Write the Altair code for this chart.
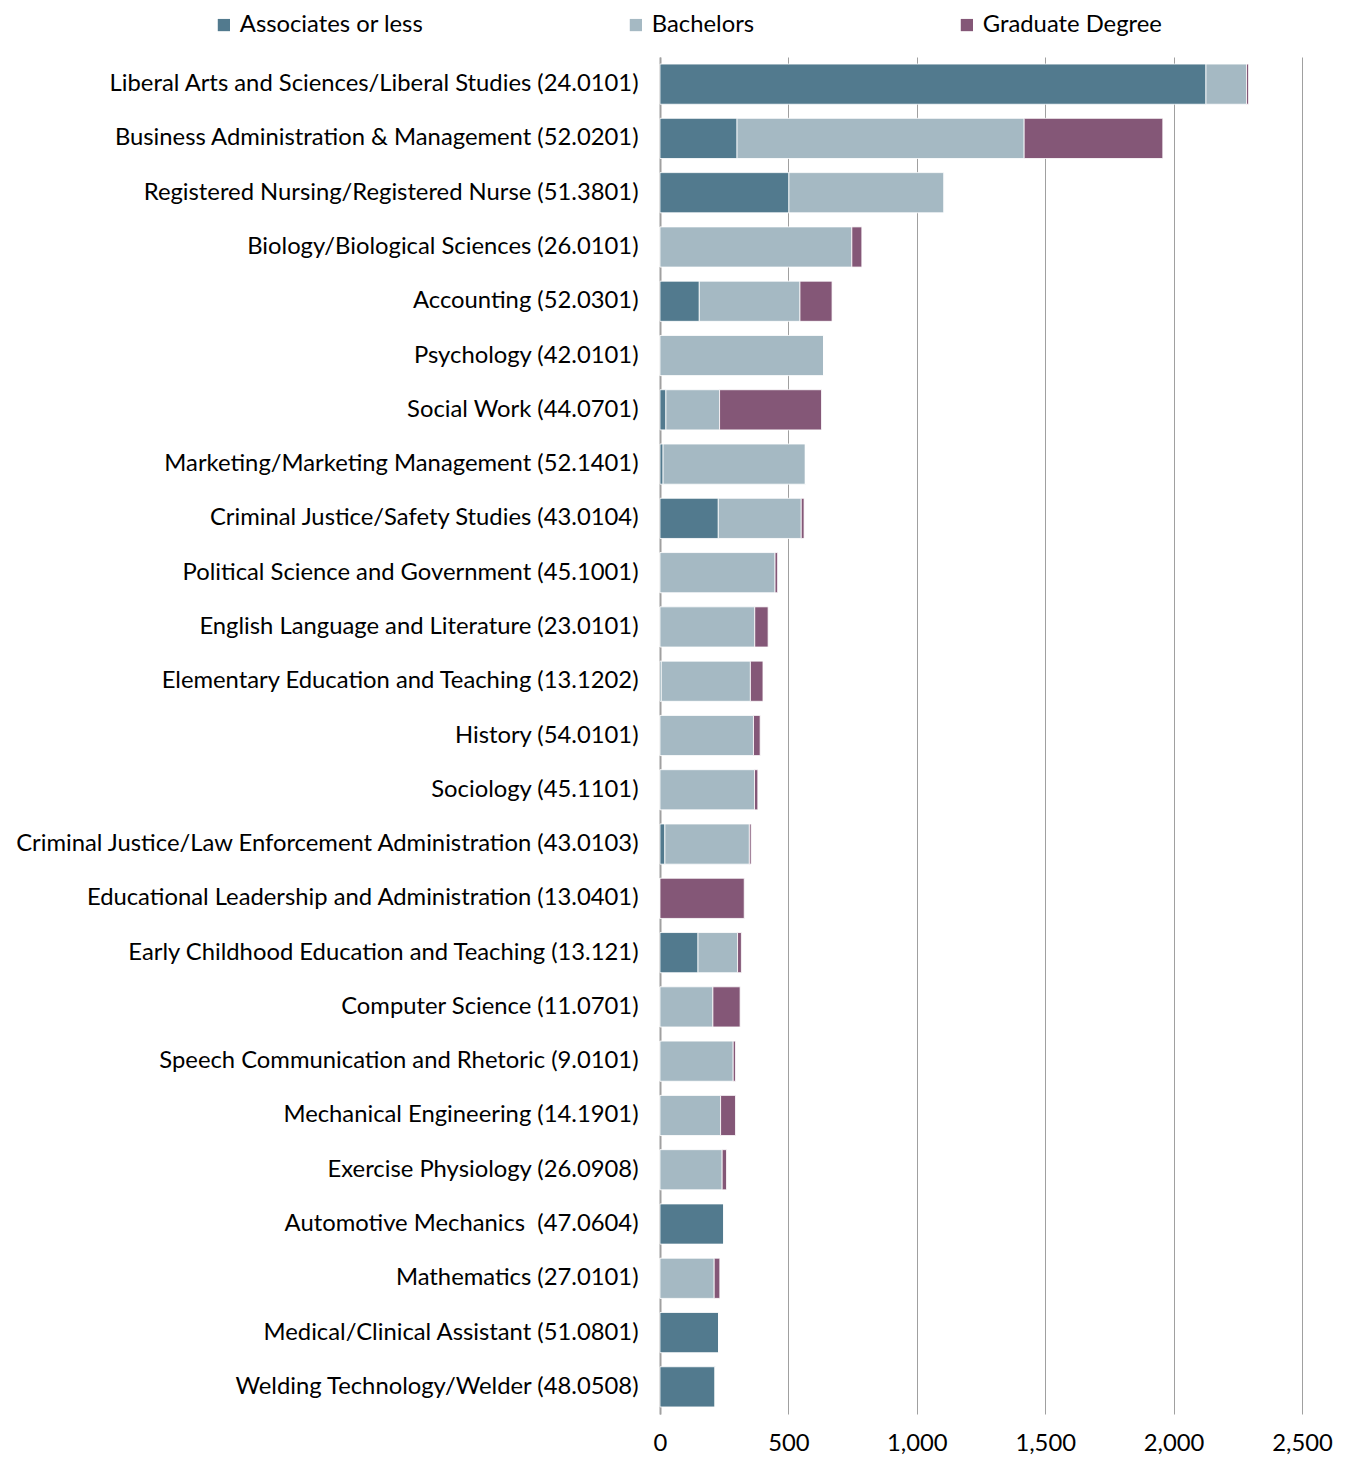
import altair as alt
import pandas as pd

categories = [
    "Liberal Arts and Sciences/Liberal Studies (24.0101)",
    "Business Administration & Management (52.0201)",
    "Registered Nursing/Registered Nurse (51.3801)",
    "Biology/Biological Sciences (26.0101)",
    "Accounting (52.0301)",
    "Psychology (42.0101)",
    "Social Work (44.0701)",
    "Marketing/Marketing Management (52.1401)",
    "Criminal Justice/Safety Studies (43.0104)",
    "Political Science and Government (45.1001)",
    "English Language and Literature (23.0101)",
    "Elementary Education and Teaching (13.1202)",
    "History (54.0101)",
    "Sociology (45.1101)",
    "Criminal Justice/Law Enforcement Administration (43.0103)",
    "Educational Leadership and Administration (13.0401)",
    "Early Childhood Education and Teaching (13.121)",
    "Computer Science (11.0701)",
    "Speech Communication and Rhetoric (9.0101)",
    "Mechanical Engineering (14.1901)",
    "Exercise Physiology (26.0908)",
    "Automotive Mechanics\u00a0 (47.0604)",
    "Mathematics (27.0101)",
    "Medical/Clinical Assistant (51.0801)",
    "Welding Technology/Welder (48.0508)",
]
associates = [2126, 300, 502, 0, 153, 0, 23, 12, 227, 0, 0, 5, 0, 0, 19, 0, 148, 0, 0, 0, 0, 249, 0, 229, 215]
bachelors = [158, 1118, 604, 747, 392, 637, 209, 554, 323, 448, 369, 347, 364, 368, 329, 0, 154, 206, 285, 236, 242, 0, 211, 0, 0]
graduate = [8, 540, 0, 39, 125, 0, 397, 0, 11, 10, 52, 49, 26, 13, 7, 328, 15, 106, 9, 58, 17, 0, 22, 0, 0]

series = ["Associates or less", "Bachelors", "Graduate Degree"]
colors = ["#527A8E", "#A5B9C3", "#845777"]

rows = []
for i, c in enumerate(categories):
    for k, (s, vals) in enumerate(zip(series, [associates, bachelors, graduate])):
        rows.append({"program": c, "level": s, "order": k, "value": vals[i]})
df = pd.DataFrame(rows)

FONT = "Lato"
FS = 23.8

chart = alt.Chart(df).mark_bar(stroke="white", strokeWidth=1, strokeOpacity=0.8).encode(
    y=alt.Y("program:N", sort=categories, title=None,
            scale=alt.Scale(paddingInner=0.26, paddingOuter=0.13),
            axis=alt.Axis(labelFontSize=FS, labelFont=FONT, labelColor="#000000",
                          labelPadding=22, ticks=False, domainColor="#A0A0A0",
                          domainWidth=2, labelLimit=1000)),
    x=alt.X("value:Q", stack="zero", title=None,
            scale=alt.Scale(domain=[0, 2500], nice=False),
            axis=alt.Axis(values=[0, 500, 1000, 1500, 2000, 2500], format=",.0f",
                          labelFontSize=FS, labelFont=FONT, labelColor="#000000",
                          labelPadding=17, ticks=False, domain=False, labelFlush=False,
                          grid=True, gridColor="#A0A0A0", gridWidth=1)),
    color=alt.Color("level:N", sort=series,
                    scale=alt.Scale(domain=series, range=colors),
                    legend=alt.Legend(title=None, orient="none", direction="horizontal",
                                      legendX=-448, legendY=-44, padding=0,
                                      symbolType="square", symbolSize=150,
                                      symbolStrokeWidth=0,
                                      labelFontSize=FS, labelFont=FONT,
                                      labelColor="#000000", columnPadding=200,
                                      labelOffset=4, labelLimit=500)),
    order=alt.Order("order:Q"),
).properties(width=642, height=1357).configure_view(stroke=None)

chart.save("out.html", embed_options={"renderer": "svg", "actions": False})
